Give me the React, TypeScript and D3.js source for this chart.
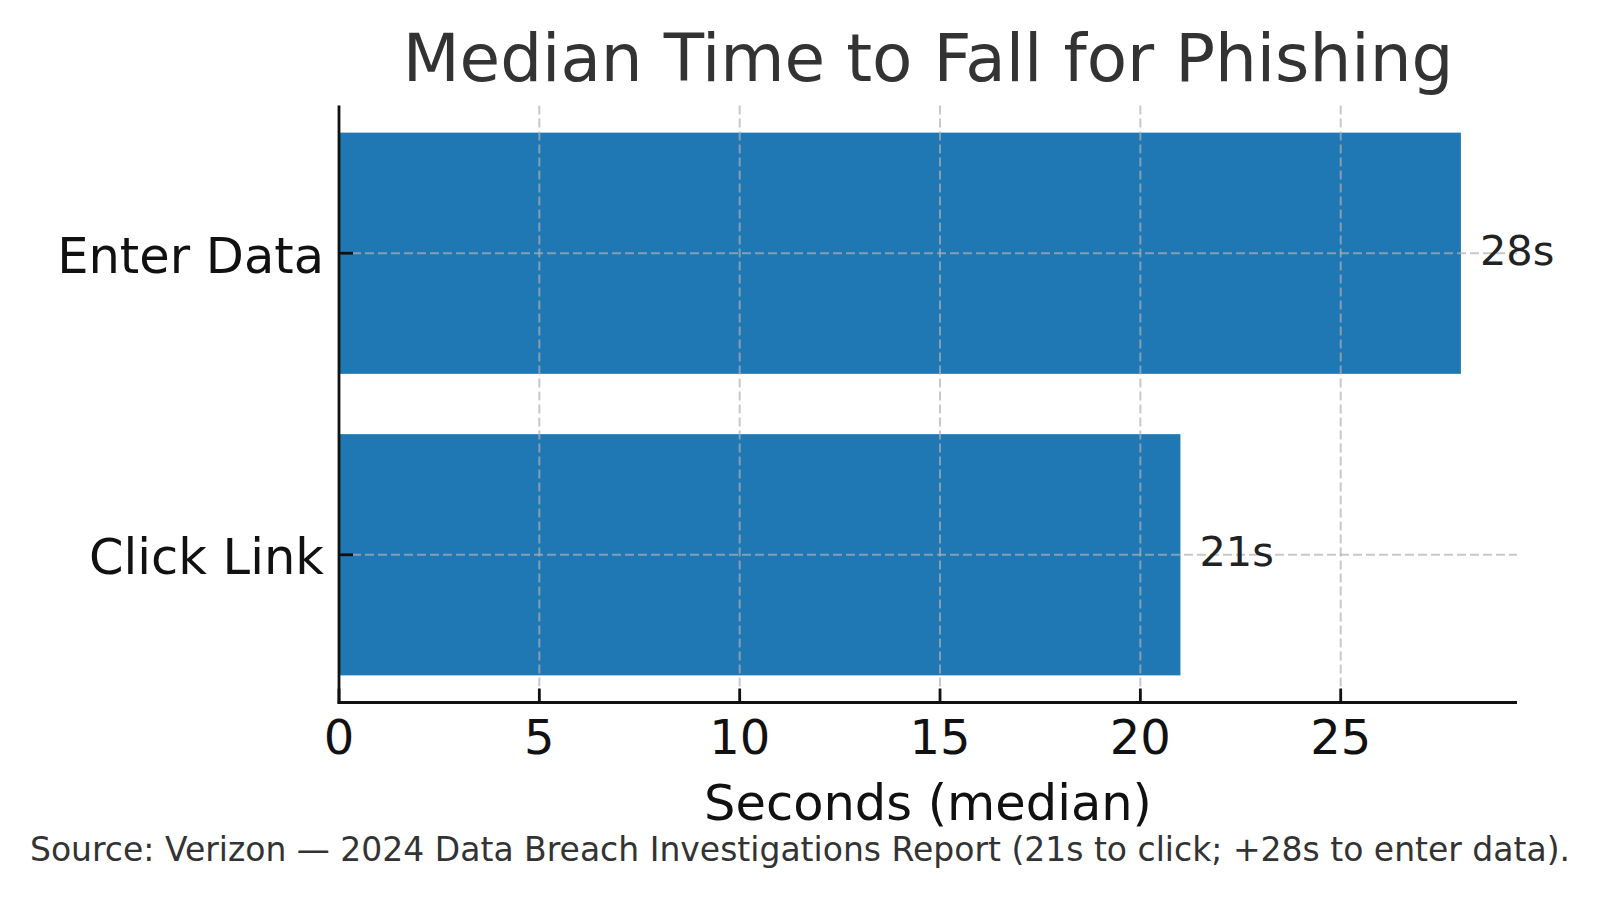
import * as d3 from 'd3'

const categories = ['Click Link', 'Enter Data']
const values = [21, 28]
const valueLabels = ['21s', '28s']
const xTicks = [0, 5, 10, 15, 20, 25]

const title = 'Median Time to Fall for Phishing'
const xLabel = 'Seconds (median)'
const source = 'Source: Verizon — 2024 Data Breach Investigations Report (21s to click; +28s to enter data).'

const font = '"DejaVu Sans", sans-serif'

export default function App() {
  const width = 1600
  const height = 897
  const left = 339
  const right = 1517
  const top = 105.5
  const bottom = 702.5

  const xMax = d3.max(values) ?? 0
  const x = d3.scaleLinear().domain([0, xMax * 1.05]).range([left, right])
  // categorical axis like matplotlib: index 0 at the bottom, bars 0.8 wide, 5% margins
  const y = d3.scaleLinear().domain([-0.49, categories.length - 1 + 0.49]).range([bottom, top])
  const barHalf = 0.4
  const barH = y(-barHalf) - y(barHalf)

  const grid = { stroke: '#b0b0b0', strokeOpacity: 0.7, strokeWidth: 2, strokeDasharray: '9 4' }

  return (
    <svg
      width={width}
      height={height}
      viewBox={`0 0 ${width} ${height}`}
      style={{ position: 'absolute', left: 0, top: 0, background: '#fff' }}
      fontFamily={font}
    >
      <rect width={width} height={height} fill="#fff" />

      <text x={(left + right) / 2} y={81} textAnchor="middle" fontSize={66} fill="#333">
        {title}
      </text>

      {categories.map((cat, i) => (
        <rect
          key={cat}
          x={x(0)}
          y={y(i + barHalf)}
          width={x(values[i]) - x(0)}
          height={barH}
          fill="#1f77b4"
        />
      ))}

      {xTicks.map((t) => (
        <line key={`gx${t}`} x1={x(t)} x2={x(t)} y1={top} y2={bottom} {...grid} />
      ))}
      {categories.map((cat, i) => (
        <line key={`gy${cat}`} x1={left} x2={right} y1={y(i)} y2={y(i)} {...grid} />
      ))}

      {categories.map((cat, i) => (
        <text
          key={`v${cat}`}
          x={x(values[i]) + 19}
          y={y(i) + 11.5}
          fontSize={41.5}
          fill="#222"
        >
          {valueLabels[i]}
        </text>
      ))}

      {/* spines */}
      <line x1={left} x2={left} y1={top} y2={bottom + 1.4} stroke="#111" strokeWidth={2.8} />
      <line x1={left - 1.4} x2={right} y1={bottom} y2={bottom} stroke="#111" strokeWidth={2.8} />

      {xTicks.map((t) => (
        <g key={`tx${t}`}>
          <line x1={x(t)} x2={x(t)} y1={bottom} y2={bottom - 14} stroke="#111" strokeWidth={2.8} />
          <text x={x(t)} y={754} textAnchor="middle" fontSize={48} fill="#111">
            {t}
          </text>
        </g>
      ))}

      {categories.map((cat, i) => (
        <g key={`ty${cat}`}>
          <line x1={left} x2={left + 14} y1={y(i)} y2={y(i)} stroke="#111" strokeWidth={2.8} />
          <text x={left - 15} y={y(i) + 19.5} textAnchor="end" fontSize={49.5} fill="#111">
            {cat}
          </text>
        </g>
      ))}

      <text x={(left + right) / 2} y={820} textAnchor="middle" fontSize={49.5} fill="#111">
        {xLabel}
      </text>

      <text x={width / 2} y={861} textAnchor="middle" fontSize={33} fill="#333">
        {source}
      </text>
    </svg>
  )
}
